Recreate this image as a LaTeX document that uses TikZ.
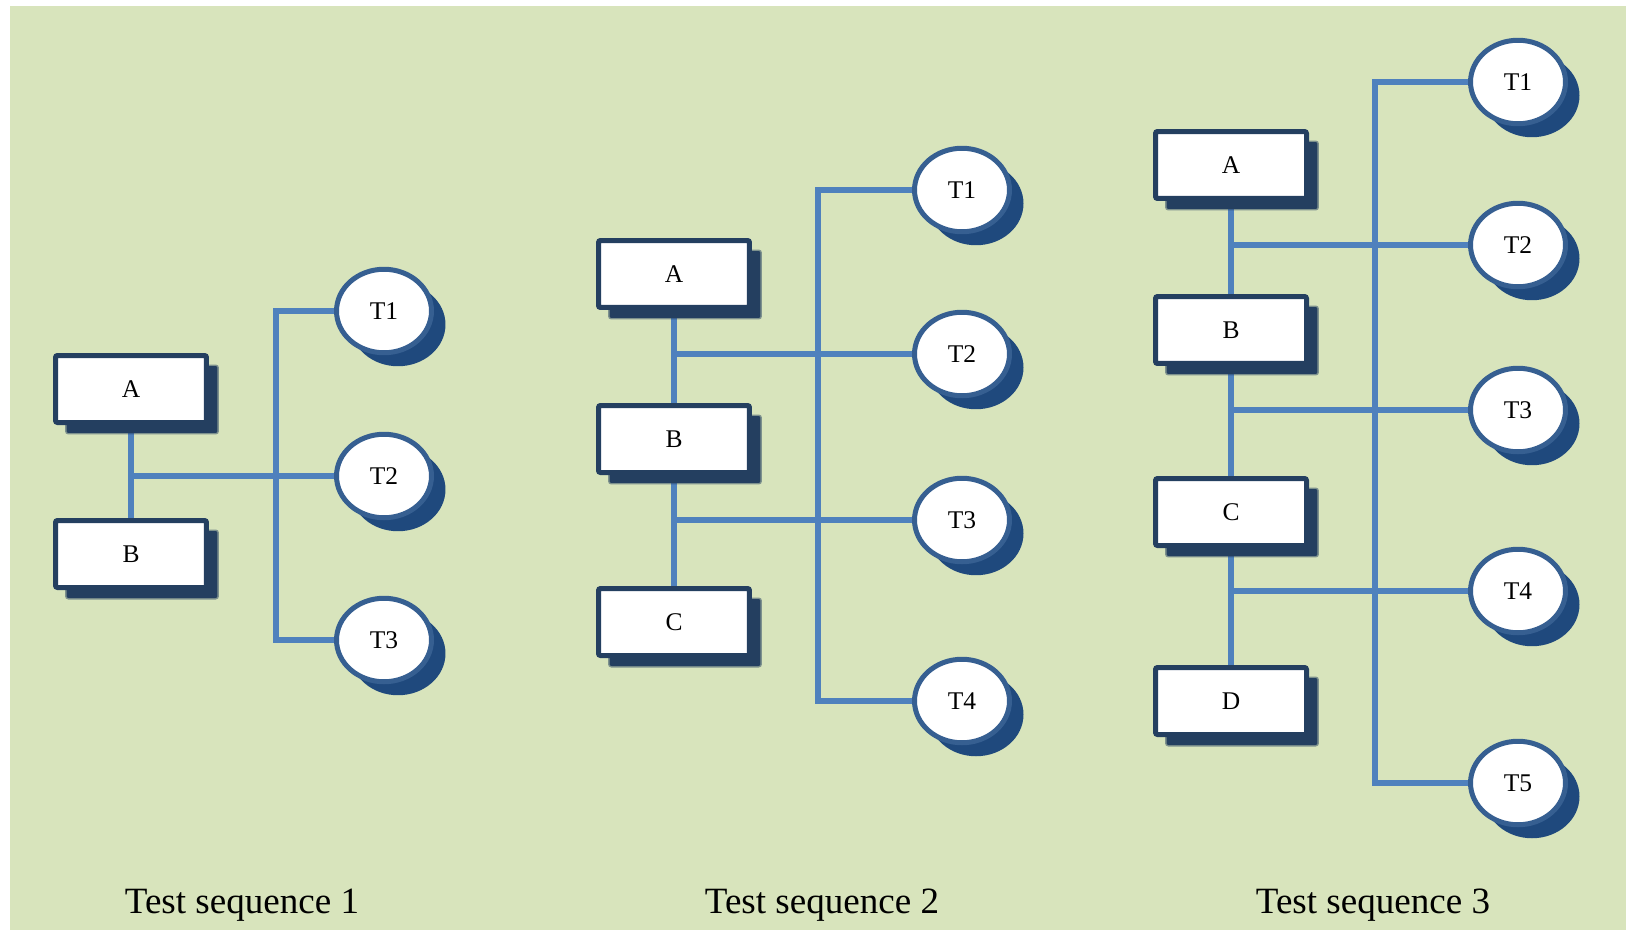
\documentclass[tikz,border=0pt]{standalone}
\usepackage{fontspec}
\setmainfont{Liberation Serif}
\usetikzlibrary{shapes.geometric,shadows}
\definecolor{bggreen}{HTML}{D8E4BC}
\definecolor{boxedge}{HTML}{243F60}
\definecolor{boxshadow}{HTML}{243F60}
\definecolor{ringblue}{HTML}{365F91}
\definecolor{tshadow}{HTML}{1F497D}
\definecolor{linkblue}{HTML}{4F81BD}
\pgfdeclarelayer{bg}
\pgfdeclarelayer{lines}
\pgfsetlayers{bg,lines,main}
\begin{document}
\begin{tikzpicture}[x=0.02cm,y=-0.02cm,
  box/.style={draw=boxedge,line width=0.1cm,fill=white,rounded corners=0.04cm,
    minimum width=3.02cm,minimum height=1.34cm,inner sep=0pt,
    font=\fontsize{14.5}{16}\selectfont,
    drop shadow={shadow xshift=0.22cm,shadow yshift=-0.21cm,fill=boxshadow,
      opacity=1,draw=boxshadow,line width=0.06cm,draw opacity=0.5}},
  test/.style={ellipse,draw=ringblue,line width=0.1cm,fill=white,
    minimum width=1.9cm,minimum height=1.67cm,inner sep=0pt,
    font=\fontsize{14.5}{16}\selectfont,
    drop shadow={shadow xshift=0.28cm,shadow yshift=-0.27cm,fill=tshadow,opacity=1}},
  link/.style={draw=linkblue,line width=0.11cm},
  caption/.style={anchor=base,font=\fontsize{21.1}{24}\selectfont}]
\useasboundingbox (0,0) rectangle (1626,930);
\begin{pgfonlayer}{bg}
\fill[bggreen] (10,6) rectangle (1626,930);
\end{pgfonlayer}

% ---------- Test sequence 1 ----------
\node[box] (s1A) at (131,389) {A};
\node[box] (s1B) at (131,554) {B};
\node[test] (s1T1) at (384,311) {T1};
\node[test] (s1T2) at (384,476) {T2};
\node[test] (s1T3) at (384,640) {T3};
\node[caption] (cap1) at (242,913) {Test sequence 1};

% ---------- Test sequence 2 ----------
\node[box] (s2A) at (674,274) {A};
\node[box] (s2B) at (674,439) {B};
\node[box] (s2C) at (674,622) {C};
\node[test] (s2T1) at (962,190) {T1};
\node[test] (s2T2) at (962,354) {T2};
\node[test] (s2T3) at (962,520) {T3};
\node[test] (s2T4) at (962,701) {T4};
\node[caption] (cap2) at (822,913) {Test sequence 2};

% ---------- Test sequence 3 ----------
\node[box] (s3A) at (1231,165) {A};
\node[box] (s3B) at (1231,330) {B};
\node[box] (s3C) at (1231,512) {C};
\node[box] (s3D) at (1231,701) {D};
\node[test] (s3T1) at (1518,82) {T1};
\node[test] (s3T2) at (1518,245) {T2};
\node[test] (s3T3) at (1518,410) {T3};
\node[test] (s3T4) at (1518,591) {T4};
\node[test] (s3T5) at (1518,783) {T5};
\node[caption] (cap3) at (1373,913) {Test sequence 3};

\begin{pgfonlayer}{lines}
% sequence 1
\coordinate (s1j) at (131,476);
\coordinate (s1b1) at (276,311);
\coordinate (s1b3) at (276,640);
\draw[link] (s1A.south) -- (s1B.north);
\draw[link] (s1j) -- (s1T2.west);
\draw[link] (s1T1.west) -- (s1b1) -- (s1b3) -- (s1T3.west);
% sequence 2
\coordinate (s2j1) at (674,354);
\coordinate (s2j2) at (674,520);
\coordinate (s2b1) at (818,190);
\coordinate (s2b4) at (818,701);
\draw[link] (s2A.south) -- (s2B.north);
\draw[link] (s2B.south) -- (s2C.north);
\draw[link] (s2j1) -- (s2T2.west);
\draw[link] (s2j2) -- (s2T3.west);
\draw[link] (s2T1.west) -- (s2b1) -- (s2b4) -- (s2T4.west);
% sequence 3
\coordinate (s3j1) at (1231,245);
\coordinate (s3j2) at (1231,410);
\coordinate (s3j3) at (1231,591);
\coordinate (s3b1) at (1375,82);
\coordinate (s3b5) at (1375,783);
\draw[link] (s3A.south) -- (s3B.north);
\draw[link] (s3B.south) -- (s3C.north);
\draw[link] (s3C.south) -- (s3D.north);
\draw[link] (s3j1) -- (s3T2.west);
\draw[link] (s3j2) -- (s3T3.west);
\draw[link] (s3j3) -- (s3T4.west);
\draw[link] (s3T1.west) -- (s3b1) -- (s3b5) -- (s3T5.west);
\end{pgfonlayer}
\end{tikzpicture}
\end{document}
